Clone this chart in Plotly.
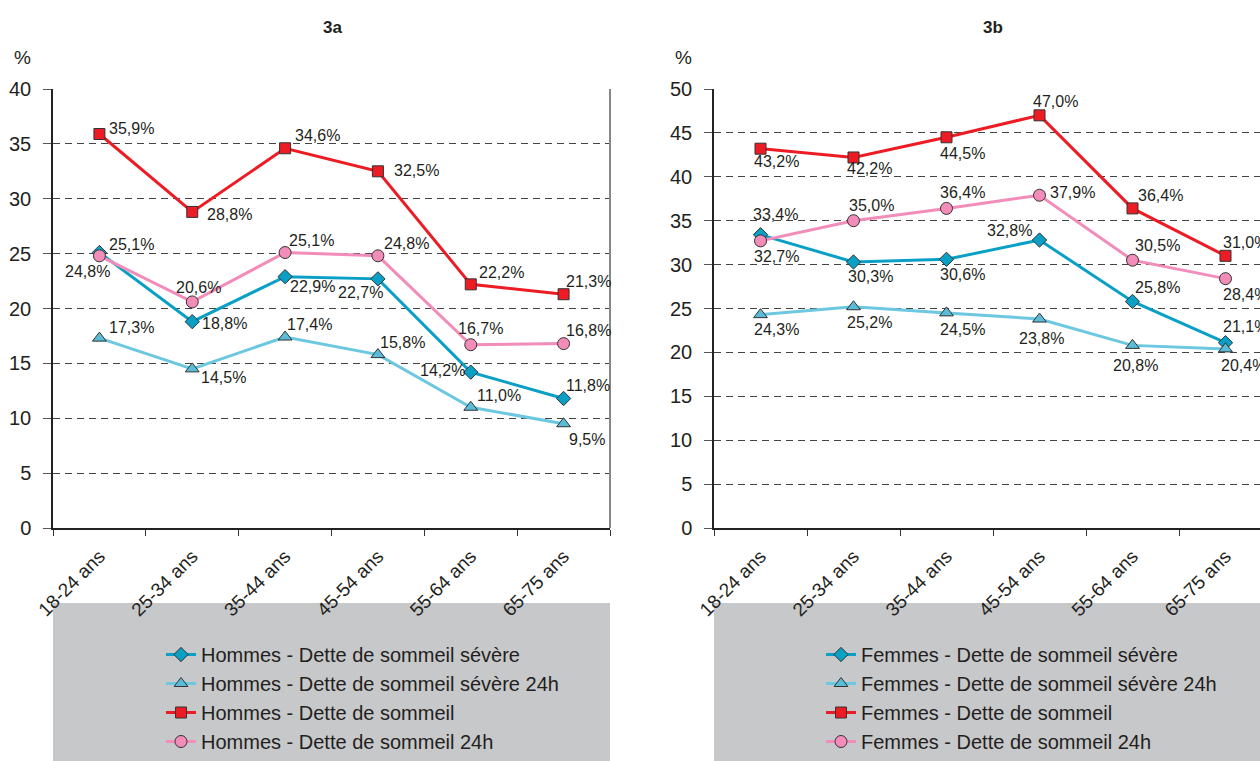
import plotly.graph_objects as go

categories = ["18-24 ans", "25-34 ans", "35-44 ans", "45-54 ans", "55-64 ans", "65-75 ans"]

# Panel 3a - Hommes
h_severe = [25.1, 18.8, 22.9, 22.7, 14.2, 11.8]
h_severe24 = [17.3, 14.5, 17.4, 15.8, 11.0, 9.5]
h_dette = [35.9, 28.8, 34.6, 32.5, 22.2, 21.3]
h_dette24 = [24.8, 20.6, 25.1, 24.8, 16.7, 16.8]

# Panel 3b - Femmes
f_severe = [33.4, 30.3, 30.6, 32.8, 25.8, 21.1]
f_severe24 = [24.3, 25.2, 24.5, 23.8, 20.8, 20.4]
f_dette = [43.2, 42.2, 44.5, 47.0, 36.4, 31.0]
f_dette24 = [32.7, 35.0, 36.4, 37.9, 30.5, 28.4]

y_ticks_a = [0, 5, 10, 15, 20, 25, 30, 35, 40]
y_ticks_b = [0, 5, 10, 15, 20, 25, 30, 35, 40, 45, 50]

# label placement (style): (xanchor, x offset px, y offset px downward)
lab_a = [
    [("left", 8, -8), ("left", 8, 2), ("left", 3, 10), ("center", -17, 14), ("right", -4, -2), ("left", 0, -13)],
    [("left", 8, -11), ("left", 7, 9), ("left", 0, -13), ("left", 0, -12), ("left", 4, -12), ("left", 3, 16)],
    [("left", 8, -6), ("left", 13, 3), ("left", 8, -13), ("left", 14, -1), ("left", 6, -12), ("left", 0, -13)],
    [("center", -12, 16), ("center", 6, -14), ("left", 2, -12), ("left", 4, -12), ("center", 10, -16), ("left", 0, -13)],
]
lab_b = [
    [("center", 15, -20), ("center", 17, 15), ("center", 16, 15), ("right", -6, -10), ("left", 0, -14), ("left", -5, -16)],
    [("center", 16, 15), ("center", 16, 16), ("center", 16, 17), ("center", 2, 19), ("center", 3, 20), ("left", -7, 17)],
    [("center", 16, 13), ("center", 16, 11), ("center", 16, 16), ("center", 16, -14), ("left", 3, -13), ("left", -5, -13)],
    [("center", 16, 16), ("center", 18, -15), ("center", 16, -16), ("left", 8, -3), ("left", 0, -15), ("left", -5, 16)],
]

FONT = "Liberation Sans Narrow, Arial Narrow, Liberation Sans, sans-serif"
TXT = "#231f20"

C_SEV = "#0aa0c6"
C_SEV24 = "#6cc7e0"
C_DET = "#ed1c24"
C_DET24 = "#f28cb9"

W, H = 1260, 761

def fmt(v):
    return f"{v:.1f}".replace(".", ",") + "%"

series = [
    ("Dette de sommeil sévère", C_SEV, "diamond", 11, C_SEV),
    ("Dette de sommeil sévère 24h", C_SEV24, "triangle-up", 12, "#5bbcd8"),
    ("Dette de sommeil", C_DET, "square", 11, C_DET),
    ("Dette de sommeil 24h", C_DET24, "circle", 12, C_DET24),
]

fig = go.Figure()
annotations = []

for (prefix, data, labs, xa, ya, leg) in [
    ("Hommes", [h_severe, h_severe24, h_dette, h_dette24], lab_a, "x", "y", "legend"),
    ("Femmes", [f_severe, f_severe24, f_dette, f_dette24], lab_b, "x2", "y2", "legend2"),
]:
    for (name, color, sym, size, fill), vals, lp in zip(series, data, labs):
        fig.add_trace(go.Scatter(
            x=categories, y=vals, xaxis=xa, yaxis=ya,
            name=f"{prefix} - {name}", legend=leg,
            mode="lines+markers",
            line=dict(color=color, width=3),
            marker=dict(symbol=sym, size=size, color=fill, line=dict(color="#333333", width=1)),
            cliponaxis=False,
        ))
        for cat, v, (anc, dx, dy) in zip(categories, vals, lp):
            annotations.append(dict(
                x=cat, y=v, xref=xa, yref=ya, text=fmt(v), showarrow=False,
                xanchor=anc, yanchor="middle", xshift=dx, yshift=-dy,
                font=dict(family=FONT, size=16, color=TXT),
            ))

px_x = lambda p: p / W
px_y = lambda p: (H - p) / H

ydom = [px_y(528), px_y(89)]

xcommon = dict(type="category", tickson="boundaries", ticks="outside", ticklen=6,
               tickcolor="#333", showline=True, linecolor="#222", linewidth=1.5,
               showgrid=False, tickangle=-45, ticklabelstandoff=8,
               tickfont=dict(family=FONT, size=19, color=TXT), automargin=False)
ycommon = dict(ticks="outside", ticklen=8, tickcolor="#555", showline=True,
               linecolor="#222", linewidth=1.5, showgrid=True, gridcolor="#444",
               griddash="7px,5px", gridwidth=1, zeroline=False, ticklabelstandoff=8,
               tickfont=dict(family=FONT, size=20, color=TXT), automargin=False)

# category width 93 px; panel 3b axis visible from 714 px to the page edge
w_b = W - 714
fig.update_layout(
    width=W, height=H,
    margin=dict(l=0, r=0, t=0, b=0, pad=0),
    paper_bgcolor="white", plot_bgcolor="white",
    showlegend=True,
    xaxis=dict(domain=[px_x(53), px_x(610)], range=[-0.5, 5.5], anchor="y", **xcommon),
    yaxis=dict(domain=ydom, range=[0, 40], tickvals=y_ticks_a, anchor="x", **ycommon),
    xaxis2=dict(domain=[px_x(714), 1.0], range=[-0.5, -0.5 + w_b / 93.0], anchor="y2", **xcommon),
    yaxis2=dict(domain=ydom, range=[0, 50], tickvals=y_ticks_b, anchor="x2", **ycommon),
    legend=dict(x=px_x(161), y=px_y(635), xanchor="left", yanchor="top",
                bgcolor="rgba(0,0,0,0)", font=dict(family=FONT, size=20, color=TXT),
                traceorder="normal"),
    legend2=dict(x=px_x(821), y=px_y(635), xanchor="left", yanchor="top",
                 bgcolor="rgba(0,0,0,0)", font=dict(family=FONT, size=20, color=TXT),
                 traceorder="normal"),
    shapes=[
        dict(type="rect", xref="paper", yref="paper", x0=px_x(53), x1=px_x(610),
             y0=0, y1=px_y(603), fillcolor="#c7c8ca", line=dict(width=0), layer="below"),
        dict(type="rect", xref="paper", yref="paper", x0=px_x(714), x1=1.0,
             y0=0, y1=px_y(603), fillcolor="#c7c8ca", line=dict(width=0), layer="below"),
        dict(type="line", xref="x domain", yref="y domain", x0=1, x1=1, y0=0, y1=1,
             line=dict(color="#888888", width=2)),
    ],
    annotations=annotations + [
        dict(text="<b>3a</b>", x=px_x(332), y=px_y(27), xref="paper", yref="paper",
             xanchor="center", yanchor="middle",
             showarrow=False, font=dict(family=FONT, size=17, color=TXT)),
        dict(text="<b>3b</b>", x=px_x(993), y=px_y(27), xref="paper", yref="paper",
             xanchor="center", yanchor="middle",
             showarrow=False, font=dict(family=FONT, size=17, color=TXT)),
        dict(text="%", x=px_x(22), y=px_y(57), xref="paper", yref="paper",
             xanchor="center", yanchor="middle",
             showarrow=False, font=dict(family=FONT, size=19, color=TXT)),
        dict(text="%", x=px_x(683), y=px_y(57), xref="paper", yref="paper",
             xanchor="center", yanchor="middle",
             showarrow=False, font=dict(family=FONT, size=19, color=TXT)),
    ],
)

fig.write_html(
    "out.html",
    config={"displayModeBar": False},
    post_script="document.body.style.margin='0px';document.body.style.overflow='hidden';",
)
